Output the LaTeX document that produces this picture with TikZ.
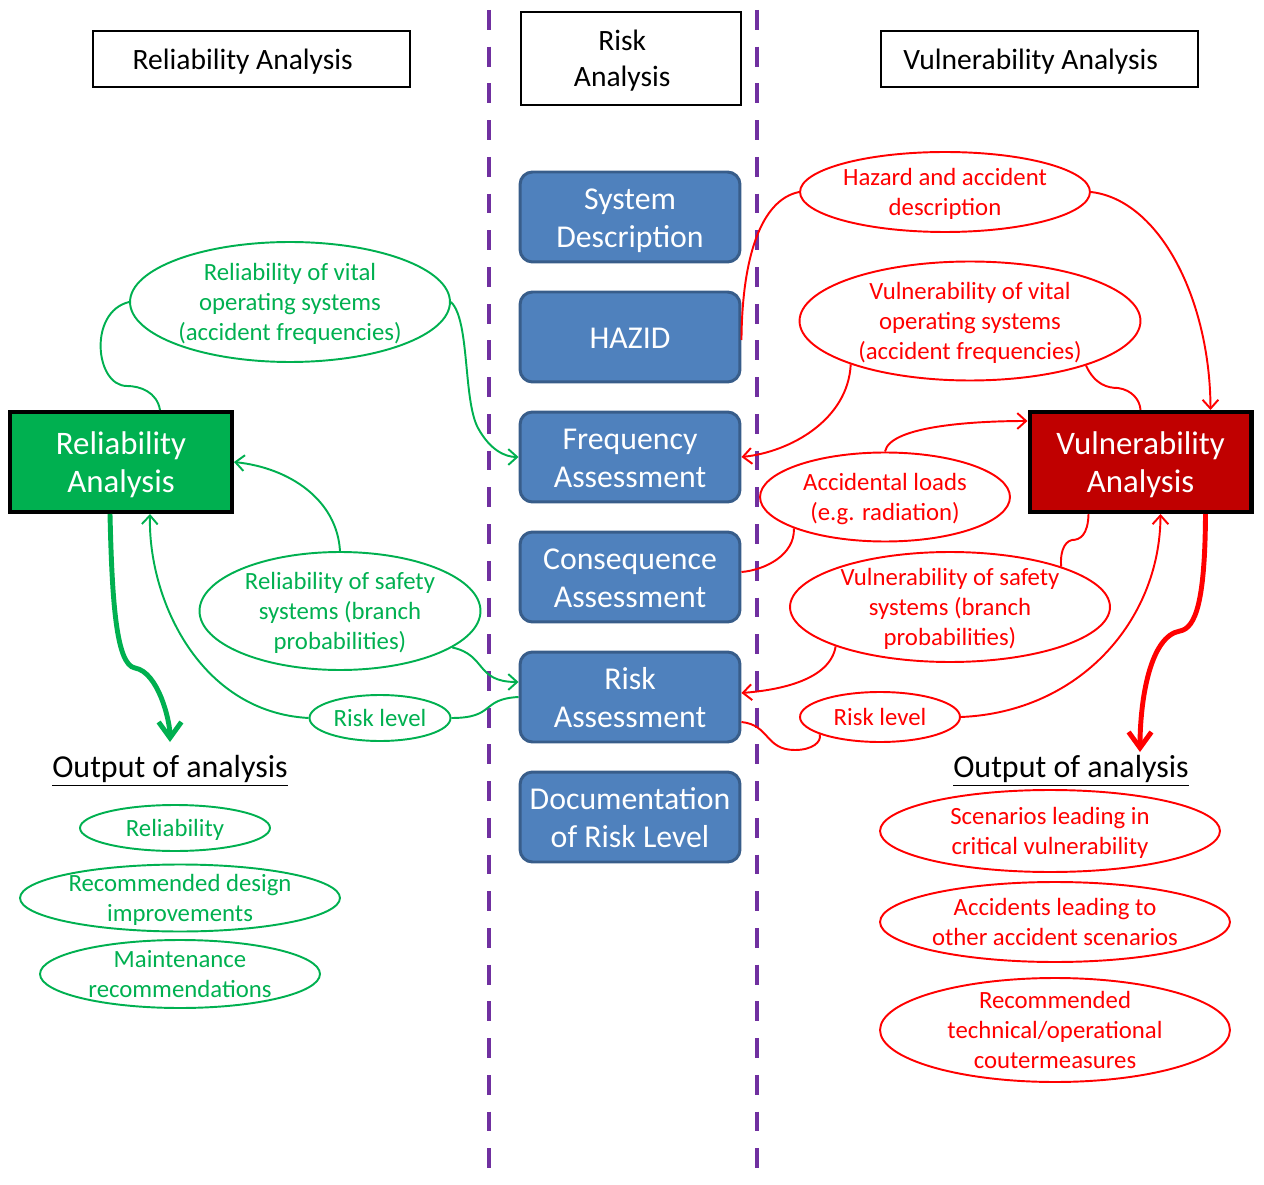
\documentclass[tikz,border=0pt]{standalone}
\usepackage{fontspec}
\setmainfont{Carlito}
\usetikzlibrary{shapes.geometric,arrows.meta,calc}
\definecolor{gr}{HTML}{00B050}
\definecolor{rd}{HTML}{FF0000}
\definecolor{dred}{HTML}{C00000}
\definecolor{bfill}{HTML}{4F81BD}
\definecolor{bdraw}{HTML}{385D8A}
\definecolor{purp}{HTML}{7030A0}
\newcommand\sk{\rule[-0.23em]{0pt}{1.16em}}
\newcommand\hs{\hspace*{10pt}}
\tikzset{
  hdr/.style={draw=black,line width=1.1pt,fill=white,align=center,inner sep=0pt,
    minimum height=1.12cm,minimum width=6.34cm,font=\fontsize{16.8pt}{20.4pt}\selectfont},
  bluebox/.style={draw=bdraw,fill=bfill,line width=1.7pt,rounded corners=0.25cm,
    minimum width=4.4cm,minimum height=1.8cm,align=center,inner sep=0pt,text=white,
    font=\fontsize{18.1pt}{21.5pt}\selectfont},
  bigbox/.style={draw=black,line width=2.3pt,minimum width=4.44cm,minimum height=2cm,
    align=center,inner sep=0pt,text=white,font=\fontsize{18.7pt}{22.1pt}\selectfont},
  gell/.style={ellipse,draw=gr,line width=1.1pt,text=gr,align=center,inner sep=-30pt,
    font=\fontsize{14.1pt}{17pt}\selectfont},
  rell/.style={ellipse,draw=rd,line width=1.1pt,text=rd,align=center,inner sep=-30pt,
    font=\fontsize{14.1pt}{17pt}\selectfont},
  gcon/.style={draw=gr,line width=1.1pt},
  rcon/.style={draw=rd,line width=1.1pt},
  arr/.style={-{Straight Barb[length=5pt,width=9pt]}},
  bigarr/.style={line width=2.8pt,-{Straight Barb[length=9pt,width=13pt]}},
  divline/.style={draw=purp,line width=2.3pt,dash pattern=on 11.3pt off 9.6pt},
  outtxt/.style={font=\fontsize{18.2pt}{22pt}\selectfont,inner sep=0pt}
}
\begin{document}
\begin{tikzpicture}[x=0.02cm,y=-0.02cm]
\useasboundingbox (0,0) rectangle (1264,1185);
% dividers
\coordinate (d1t) at (489,10); \coordinate (d1b) at (489,1185);
\coordinate (d2t) at (757,10); \coordinate (d2b) at (757,1185);
\draw[divline] (d1t) -- (d1b);
\draw[divline] (d2t) -- (d2b);
% headers
\node[hdr] (hrel) at (251.5,59) {\sk Reliability Analysis\hs};
\node[hdr,minimum width=4.4cm,minimum height=1.86cm] (hrisk) at (631,58.5) {\sk Risk\hs\\\sk Analysis\hs};
\node[hdr] (hvul) at (1039.5,59) {\sk Vulnerability Analysis\hs};
% blue boxes
\node[bluebox] (sysd) at (630,217) {\sk System\\\sk Description};
\node[bluebox] (hazid) at (630,337) {\sk HAZID};
\node[bluebox] (freq) at (630,457) {\sk Frequency\\\sk Assessment};
\node[bluebox] (cons) at (630,577) {\sk Consequence\\\sk Assessment};
\node[bluebox] (risk) at (630,697) {\sk Risk\\\sk Assessment};
\node[bluebox] (doc) at (630,817) {\sk Documentation\\\sk of Risk Level};
% big boxes
\node[bigbox,fill=gr] (rbox) at (121,462) {\sk Reliability\\\sk Analysis};
\node[bigbox,fill=dred] (vbox) at (1140.5,462) {\sk Vulnerability\\\sk Analysis};
% green ellipses
\node[gell,minimum width=6.4cm,minimum height=2.4cm] (g1) at (290,302) {\sk Reliability of vital\\\sk operating systems\\\sk (accident frequencies)};
\node[gell,minimum width=5.62cm,minimum height=2.36cm] (g2) at (340,611) {\sk Reliability of safety\\\sk systems (branch\\\sk probabilities)};
\node[gell,minimum width=2.82cm,minimum height=0.92cm] (g3) at (380,718) {\sk Risk level};
\node[gell,minimum width=3.8cm,minimum height=0.92cm] (go1) at (175,828) {\sk Reliability};
\node[gell,minimum width=6.4cm,minimum height=1.34cm] (go2) at (180,898) {\sk Recommended design\\\sk improvements};
\node[gell,minimum width=5.6cm,minimum height=1.36cm] (go3) at (180,974) {\sk Maintenance\\\sk recommendations};
% red ellipses
\node[rell,minimum width=5.8cm,minimum height=1.6cm] (r1) at (945,192) {\sk Hazard and accident\\\sk description};
\node[rell,minimum width=6.82cm,minimum height=2.38cm] (r2) at (970,321) {\sk Vulnerability of vital\\\sk operating systems\\\sk (accident frequencies)};
\node[rell,minimum width=5.0cm,minimum height=1.78cm] (r3) at (885,497) {\sk Accidental loads\\\sk (e.g. radiation)};
\node[rell,minimum width=6.4cm,minimum height=2.2cm] (r4) at (950,607) {\sk Vulnerability of safety\\\sk systems (branch\\\sk probabilities)};
\node[rell,minimum width=3.2cm,minimum height=1.0cm] (r5) at (880,717) {\sk Risk level};
\node[rell,minimum width=6.8cm,minimum height=1.64cm] (ro1) at (1050,831) {\sk Scenarios leading in\\\sk critical vulnerability};
\node[rell,minimum width=7.0cm,minimum height=1.6cm] (ro2) at (1055,922) {\sk Accidents leading to\\\sk other accident scenarios};
\node[rell,minimum width=7.0cm,minimum height=2.08cm] (ro3) at (1055,1030) {\sk Recommended\\\sk technical/operational\\\sk coutermeasures};
% output headers
\node[outtxt] (outl) at (170,771) {\underline{Output of analysis}};
\node[outtxt] (outr) at (1071,771) {\underline{Output of analysis}};
% green connectors
\draw[gcon] ($(rbox.north)+(39,0)$) .. controls (157,392) and (140,386) .. (127,386)
   .. controls (95,386) and (88,312) .. (g1.west);
\draw[gcon,arr] (g1.east) .. controls (470,320) and (463,400) .. (478,428)
   .. controls (490,450) and (505,457) .. (freq.west);
\draw[gcon,arr] (g2.north) .. controls (337,500) and (290,468) .. (rbox.east);
\draw[gcon,arr] (g2.-18) .. controls (487,655) and (475,682) .. ($(risk.west)+(0,-15)$);
\draw[gcon] (risk.west) .. controls (480,699) and (496,718) .. (g3.east);
\draw[gcon,arr] (g3.west) .. controls (200,712) and (148,600) .. ($(rbox.south)+(29,0)$);
\draw[gcon,bigarr] ($(rbox.south)+(-11,0)$) .. controls (112,600) and (116,665) .. (135,668)
   .. controls (158,672) and (170,720) .. (170,742);
% red connectors
\draw[rcon] ($(hazid.east)+(0,3)$) .. controls (742,260) and (760,200) .. (r1.west);
\draw[rcon,arr] (r1.east) .. controls (1160,200) and (1210,300) .. ($(vbox.north)+(70,0)$);
\draw[rcon] (r2.-21) .. controls (1095,385) and (1108,388) .. (1118,388)
   .. controls (1132,390) and (1140,400) .. (vbox.north);
\draw[rcon,arr] (r2.200) .. controls (848,420) and (790,452) .. (freq.east);
\draw[rcon,arr] (r3.north) .. controls (890,425) and (980,421) .. ($(vbox.west)+(0,-41)$);
\draw[rcon] (r3.199) .. controls (795,555) and (765,570) .. ($(cons.east)+(0,-5)$);
\draw[rcon] ($(vbox.south)+(-52,0)$) .. controls (1088,535) and (1080,540) .. (1072,540)
   .. controls (1063,542) and (1060,555) .. (r4.20);
\draw[rcon,arr] (r4.199) .. controls (830,680) and (780,690) .. ($(risk.east)+(0,-4)$);
\draw[rcon,arr] (r5.east) .. controls (1080,712) and (1160,620) .. ($(vbox.south)+(20,0)$);
\draw[rcon] ($(risk.east)+(0,25)$) .. controls (770,725) and (765,750) .. (795,750)
   .. controls (812,750) and (822,742) .. (r5.196);
\draw[rcon,bigarr] ($(vbox.south)+(65,0)$) .. controls (1205,600) and (1196,628) .. (1180,631)
   .. controls (1150,636) and (1140,700) .. (1140,752);
\end{tikzpicture}
\end{document}
